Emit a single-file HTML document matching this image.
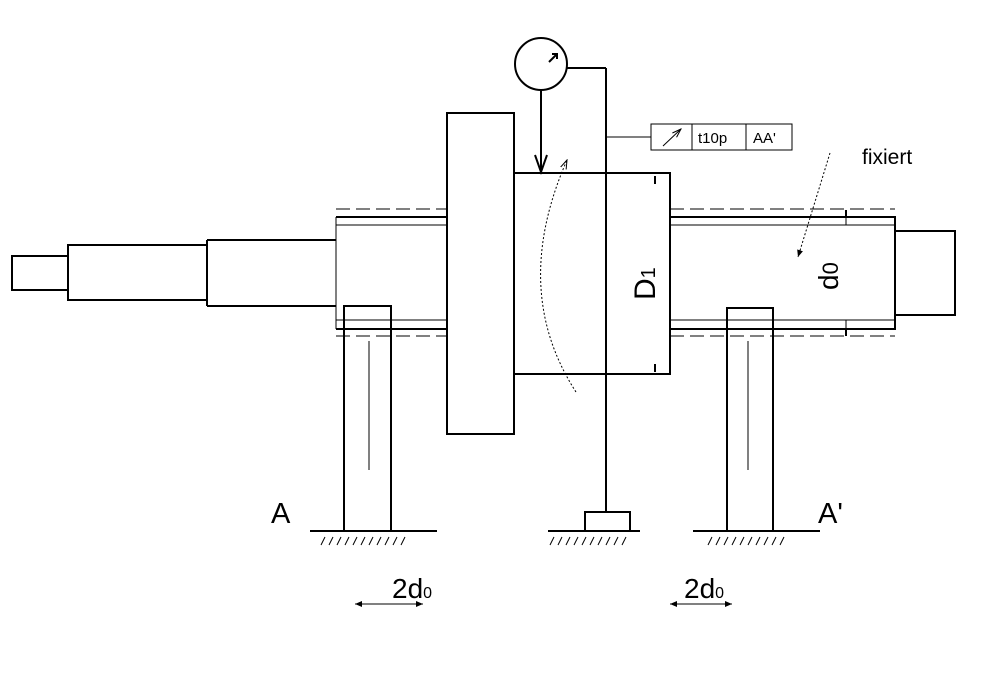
<!DOCTYPE html>
<html><head><style>body{margin:0;background:#fff}svg{display:block}</style></head><body>
<svg width="996" height="690" viewBox="0 0 996 690" xmlns="http://www.w3.org/2000/svg" font-family="Liberation Sans, sans-serif">
<defs>
<marker id="ah" markerWidth="10" markerHeight="8" refX="9" refY="4" orient="auto" markerUnits="userSpaceOnUse"><path d="M0,1 L9,4 L0,7" fill="none" stroke="#000" stroke-width="1"/></marker>
<marker id="sa" markerWidth="8" markerHeight="6" refX="7" refY="3" orient="auto-start-reverse" markerUnits="userSpaceOnUse"><path d="M0,0 L7,3 L0,6z" fill="#000"/></marker>
</defs>
<g fill="none" stroke="#000">
<!-- left shaft -->
<rect x="12" y="256" width="56" height="34" stroke-width="2"/>
<path d="M68,245 H207 V300 H68 Z" stroke-width="2"/>
<path d="M207,240 H336 M207,306 H336" stroke-width="2"/><path d="M207,240 V306" stroke-width="2"/>
<path d="M336,217 H447 M336,329 H447" stroke-width="2"/>
<path d="M336,217 V329 M336,225 H447 M336,320 H447" stroke-width="1"/>
<path d="M336,209 H447 M336,336 H447" stroke-dasharray="14,6" stroke-width="1"/>
<!-- disk & hub -->
<rect x="447" y="113" width="67" height="321" stroke-width="2"/>
<rect x="514" y="173" width="156" height="201" stroke-width="2"/>
<!-- right shaft -->
<path d="M670,217 H895 V329 H670" stroke-width="2"/>
<path d="M670,225 H895 M670,320 H895" stroke-width="1"/>
<path d="M670,209 H895 M670,336 H895" stroke-dasharray="14,6" stroke-width="1"/>
<rect x="895" y="231" width="60" height="84" stroke-width="2"/>
<!-- ticks -->
<path d="M655,176 V184 M655,364 V372 M846,210 V217 M846,329 V336" stroke-width="2"/>
<path d="M846,217 V225 M846,320 V329" stroke-width="1"/>
<!-- supports -->
<rect x="344" y="306" width="47" height="225" stroke-width="2"/>
<path d="M369,341 V470" stroke-width="1"/>
<rect x="727" y="308" width="46" height="223" stroke-width="2"/>
<path d="M748,341 V470" stroke-width="1"/>
<!-- rod -->
<path d="M606,68 V512 M567,68 H606" stroke-width="2"/>
<rect x="585" y="512" width="45" height="19" stroke-width="2"/>
<circle cx="541" cy="64" r="26" stroke-width="2"/>
<path d="M549,62 L557,54 M552,54 H557 V59" stroke-width="2"/>
<path d="M541,90 V172" stroke-width="2"/>
<path d="M535,155 L541,172 L547,155" stroke-width="2"/>
<!-- callout -->
<path d="M606,137 H651" stroke-width="1"/>
<rect x="651" y="124" width="141" height="26" stroke-width="1"/>
<path d="M692,124 V150 M746,124 V150" stroke-width="1"/>
<path d="M663,146 L681,129" stroke-width="1" marker-end="url(#ah)"/>
<!-- ground -->
<path d="M310,531 H437 M548,531 H640 M693,531 H820" stroke-width="2"/>
<path d="M321,545 l4,-8 M329,545 l4,-8 M337,545 l4,-8 M345,545 l4,-8 M353,545 l4,-8 M361,545 l4,-8 M369,545 l4,-8 M377,545 l4,-8 M385,545 l4,-8 M393,545 l4,-8 M401,545 l4,-8
M550,545 l4,-8 M558,545 l4,-8 M566,545 l4,-8 M574,545 l4,-8 M582,545 l4,-8 M590,545 l4,-8 M598,545 l4,-8 M606,545 l4,-8 M614,545 l4,-8 M622,545 l4,-8
M708,545 l4,-8 M716,545 l4,-8 M724,545 l4,-8 M732,545 l4,-8 M740,545 l4,-8 M748,545 l4,-8 M756,545 l4,-8 M764,545 l4,-8 M772,545 l4,-8 M780,545 l4,-8" stroke-width="1"/>
<!-- curved dotted arrow -->
<path d="M576,392 Q510,290 567,160" stroke-width="1" stroke-dasharray="2,2" marker-end="url(#ah)"/>
<!-- fixiert leader -->
<path d="M830,153 L798,257" stroke-width="1" stroke-dasharray="2,2" marker-end="url(#sa)"/>
<!-- dims -->
<path d="M355,604 H423" stroke-width="1" marker-end="url(#sa)" marker-start="url(#sa)"/>
<path d="M670,604 H732" stroke-width="1" marker-end="url(#sa)" marker-start="url(#sa)"/>
</g>
<g fill="#000">
<text x="698" y="143" font-size="15">t10p</text>
<text x="753" y="143" font-size="15">AA'</text>
<text x="862" y="164" font-size="21">fixiert</text>
<text x="271" y="523" font-size="29">A</text>
<text x="818" y="523" font-size="29">A'</text>
<text x="392" y="598" font-size="28">2d<tspan font-size="16">0</tspan></text>
<text x="684" y="598" font-size="28">2d<tspan font-size="16">0</tspan></text>
<text transform="translate(655,300) rotate(-90)" font-size="30">D<tspan font-size="20">1</tspan></text>
<text transform="translate(838,290) rotate(-90)" font-size="28">d<tspan font-size="22">0</tspan></text>
</g>
</svg>
</body></html>
